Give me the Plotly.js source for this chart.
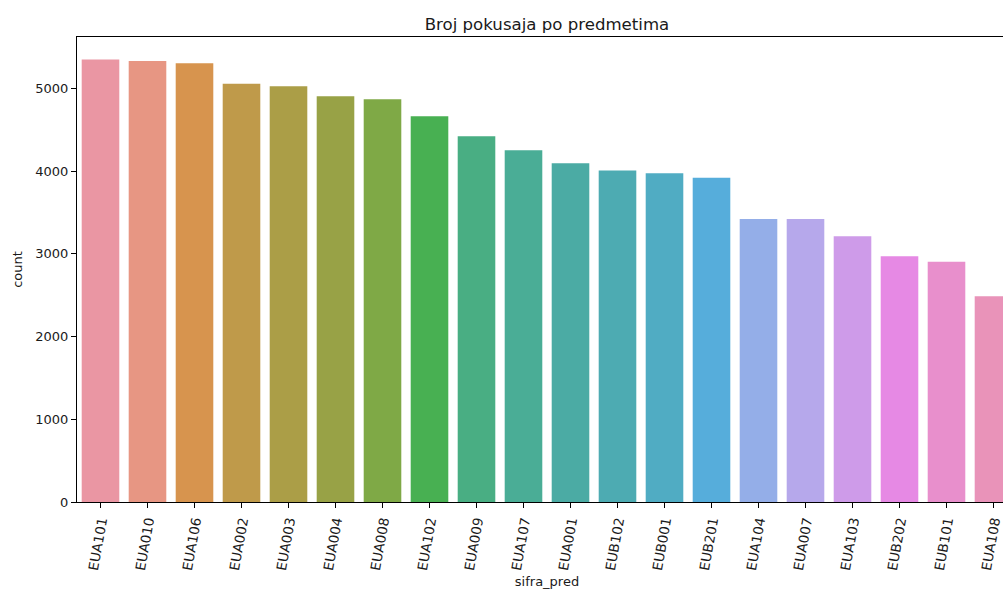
<!DOCTYPE html>
<html>
<head>
<meta charset="utf-8">
<script src="https://cdn.plot.ly/plotly-3.0.1.min.js"></script>
<style>
html, body { margin: 0; padding: 0; overflow: hidden; background: #fff; }
#chart { width: 1040px; height: 591px; }
</style>
</head>
<body>
<div id="chart"></div>
<script>
// ---- data ----
const categories = ["EUA101","EUA010","EUA106","EUA002","EUA003","EUA004","EUA008","EUA102","EUA009","EUA107",
                    "EUA001","EUB102","EUB001","EUB201","EUA104","EUA007","EUA103","EUB202","EUB101","EUA108"];
const counts = [5347, 5331, 5303, 5056, 5025, 4904, 4867, 4662, 4420, 4250,
                4093, 4008, 3972, 3919, 3419, 3419, 3213, 2971, 2903, 2488];
const yTickVals = [0, 1000, 2000, 3000, 4000, 5000];
const titleText = "Broj pokusaja po predmetima";
const xLabel = "sifra_pred";
const yLabel = "count";

// ---- seaborn-like husl palette (l=.7, desaturated 0.75) ----
const M = [[3.2406, -1.5372, -0.4986], [-0.9689, 1.8758, 0.0415], [0.0557, -0.2040, 1.0570]];
const refU = 0.19784, refV = 0.46834, labE = 0.008856, labK = 903.3;
function maxChroma(L, H) {
  const hr = H * Math.PI / 180, sinH = Math.sin(hr), cosH = Math.cos(hr);
  const sub1 = Math.pow(L + 16, 3) / 1560896.0;
  const sub2 = sub1 > 0.008856 ? sub1 : L / 903.3;
  let result = Infinity;
  for (const [m1, m2, m3] of M) {
    const top = (0.99915 * m1 + 1.05122 * m2 + 1.14460 * m3) * sub2;
    const rb = 0.86330 * m3 - 0.17266 * m2;
    const lb = 0.12949 * m3 - 0.38848 * m1;
    const bottom = (rb * sinH + lb * cosH) * sub2;
    for (const t of [0, 1]) {
      const C = L * (top - 1.05122 * t) / (bottom + 0.17266 * sinH * t);
      if (C > 0 && C < result) result = C;
    }
  }
  return result;
}
function fInv(t) { return Math.pow(t, 3) > labE ? Math.pow(t, 3) : (116 * t - 16) / labK; }
function fromLinear(c) { return c <= 0.0031308 ? 12.92 * c : 1.055 * Math.pow(c, 1 / 2.4) - 0.055; }
function huslToRgb(H, S, L) {
  const C = maxChroma(L, H) / 100 * S;
  const hr = H * Math.PI / 180;
  const U = Math.cos(hr) * C, V = Math.sin(hr) * C;
  const varY = fInv((L + 16) / 116);
  const varU = U / (13 * L) + refU, varV = V / (13 * L) + refV;
  const Y = varY;
  const X = 0 - (9 * Y * varU) / ((varU - 4) * varV - varU * varV);
  const Z = (9 * Y - 15 * varV * Y - varV * X) / (3 * varV);
  return M.map(r => Math.min(1, Math.max(0, fromLinear(r[0] * X + r[1] * Y + r[2] * Z))));
}
function rgbToHls(r, g, b) {
  const mx = Math.max(r, g, b), mn = Math.min(r, g, b);
  const l = (mx + mn) / 2;
  if (mx === mn) return [0, l, 0];
  const s = l <= 0.5 ? (mx - mn) / (mx + mn) : (mx - mn) / (2 - mx - mn);
  const rc = (mx - r) / (mx - mn), gc = (mx - g) / (mx - mn), bc = (mx - b) / (mx - mn);
  let h;
  if (r === mx) h = bc - gc; else if (g === mx) h = 2 + rc - bc; else h = 4 + gc - rc;
  h = (((h / 6) % 1) + 1) % 1;
  return [h, l, s];
}
function vv(m1, m2, h) {
  h = ((h % 1) + 1) % 1;
  if (h < 1 / 6) return m1 + (m2 - m1) * h * 6;
  if (h < 0.5) return m2;
  if (h < 2 / 3) return m1 + (m2 - m1) * (2 / 3 - h) * 6;
  return m1;
}
function hlsToRgb(h, l, s) {
  if (s === 0) return [l, l, l];
  const m2 = l <= 0.5 ? l * (1 + s) : l + s - l * s;
  const m1 = 2 * l - m2;
  return [vv(m1, m2, h + 1 / 3), vv(m1, m2, h), vv(m1, m2, h - 1 / 3)];
}
function huslPalette(n) {
  const out = [];
  for (let i = 0; i < n; i++) {
    const h = ((i / n + 0.01) % 1) * 359;
    const [r, g, b] = huslToRgb(h, 0.9 * 99, 0.7 * 99);
    const [hh, ll, ss] = rgbToHls(r, g, b);
    const [r2, g2, b2] = hlsToRgb(hh, ll, ss * 0.75);
    out.push(`rgb(${Math.round(r2 * 255)},${Math.round(g2 * 255)},${Math.round(b2 * 255)})`);
  }
  return out;
}
const colors = huslPalette(categories.length);

const font = "DejaVu Sans, Liberation Sans, sans-serif";
const txt = "#1a1a1a";

const trace = {
  type: "bar",
  x: categories,
  y: counts,
  width: 0.8,
  marker: { color: colors, line: { width: 0 } },
  hoverinfo: "x+y"
};

const layout = {
  width: 1040,
  height: 591,
  margin: { l: 77, r: 23, t: 37, b: 89, pad: 0 },
  paper_bgcolor: "#ffffff",
  plot_bgcolor: "#ffffff",
  showlegend: false,
  font: { family: font, size: 13, color: txt },
  title: {
    text: titleText,
    font: { family: font, size: 16.6, color: txt },
    xref: "paper", x: 0.5, xanchor: "center",
    yref: "paper", y: 1, yanchor: "bottom",
    pad: { b: 7 }
  },
  xaxis: {
    type: "category",
    range: [-0.5, categories.length - 0.5],
    showline: true, linecolor: "#000", linewidth: 1, mirror: true,
    ticks: "outside", ticklen: 5, tickcolor: "#000", tickwidth: 1,
    tickangle: -80,
    tickfont: { family: font, size: 13.5, color: txt },
    showgrid: false, zeroline: false,
    automargin: false,
    title: { text: xLabel, font: { family: font, size: 13, color: txt }, standoff: 6 }
  },
  yaxis: {
    range: [0, 5620],
    tickvals: yTickVals,
    ticktext: yTickVals.map(String),
    showline: true, linecolor: "#000", linewidth: 1, mirror: true,
    ticks: "outside", ticklen: 5, tickcolor: "#000", tickwidth: 1,
    tickfont: { family: font, size: 13, color: txt },
    showgrid: false, zeroline: false,
    automargin: false,
    title: { text: yLabel, font: { family: font, size: 13, color: txt }, standoff: 9 }
  }
};

Plotly.newPlot("chart", [trace], layout, { displayModeBar: false, staticPlot: true });
</script>
</body>
</html>
